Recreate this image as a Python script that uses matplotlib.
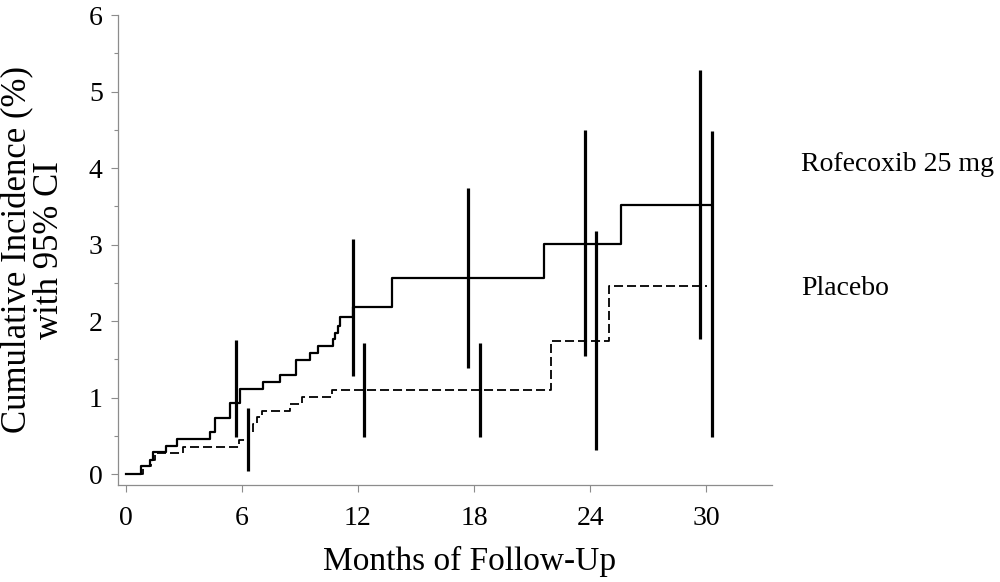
import numpy as np
import matplotlib
matplotlib.use("Agg")
import matplotlib.pyplot as plt

plt.rcParams["font.family"] = ["Liberation Serif", "DejaVu Serif"]

# Kaplan-Meier style cumulative incidence (step, post)
t_rof = [0, 0.81, 1.24, 1.41, 2.1, 2.67, 4.34, 4.62, 5.41, 5.9, 7.1, 7.97,
         8.79, 9.52, 9.93, 10.69, 10.81, 10.98, 11.07, 11.72, 13.74, 21.62,
         25.59, 30.26]
y_rof = [0, 0.10, 0.19, 0.29, 0.37, 0.46, 0.55, 0.73, 0.93, 1.11, 1.20, 1.30,
         1.49, 1.58, 1.67, 1.77, 1.85, 1.94, 2.05, 2.18, 2.57, 3.01,
         3.52, 3.52]

t_pla = [0, 0.9, 1.33, 1.5, 2.97, 5.86, 6.33, 6.59, 6.8, 7.05, 8.48, 9.09,
         10.64, 21.97, 24.95, 30.04]
y_pla = [0, 0.10, 0.18, 0.28, 0.36, 0.45, 0.55, 0.66, 0.74, 0.82, 0.92, 1.01,
         1.10, 1.74, 2.46, 2.46]

# 95% CI bars
ci_rof_t = [5.69, 11.72, 17.71, 23.71, 29.66]
ci_rof_lo = [0.48, 1.28, 1.39, 1.55, 1.76]
ci_rof_hi = [1.75, 3.07, 3.74, 4.50, 5.28]

ci_pla_t = [6.33, 12.31, 18.31, 24.31, 30.3]
ci_pla_lo = [0.04, 0.48, 0.48, 0.32, 0.48]
ci_pla_hi = [0.86, 1.71, 1.71, 3.18, 4.48]

xticks = [0, 6, 12, 18, 24, 30]
yticks = [0, 1, 2, 3, 4, 5, 6]

fig = plt.figure(figsize=(10, 5.82), dpi=100)
ax = fig.add_axes([0.118, 0.167, 0.654, 0.807])

ax.step(t_rof, y_rof, where="post", color="black", lw=1.6)
ax.step(t_pla, y_pla, where="post", color="black", lw=1.3, ls=(0, (5, 2.2)))

ax.vlines(ci_rof_t, ci_rof_lo, ci_rof_hi, color="black", lw=2.3)
ax.vlines(ci_pla_t, ci_pla_lo, ci_pla_hi, color="black", lw=2.3)

ax.set_xlim(-0.4, 33.4)
ax.set_ylim(-0.14, 6)
ax.set_xticks(xticks)
ax.set_yticks(yticks)
ax.set_yticks(np.arange(0.5, 6, 1), minor=True)

for s in ["top", "right"]:
    ax.spines[s].set_visible(False)
for s in ["left", "bottom"]:
    ax.spines[s].set_color("0.55")
    ax.spines[s].set_linewidth(0.9)

ax.tick_params(axis="both", which="major", length=5, width=0.8, color="0.55",
               labelsize=20)
ax.tick_params(axis="y", which="major", pad=6)
ax.tick_params(axis="x", which="major", pad=10)
ax.tick_params(axis="y", which="minor", length=3, width=0.8, color="0.55")

ax.set_xlabel("Months of Follow-Up", fontsize=24)
ax.xaxis.set_label_coords(0.537, -0.13)
ax.set_ylabel("Cumulative Incidence (%)\nwith 95% CI", fontsize=25,
              linespacing=0.92)
ax.yaxis.set_label_coords(-0.08, 0.5)

ax.text(34.9, 4.05, "Rofecoxib 25 mg", fontsize=20, va="center", ha="left",
        clip_on=False)
ax.text(34.9, 2.42, "Placebo", fontsize=20, va="center", ha="left",
        clip_on=False)

fig.savefig("out.png", dpi=100)
